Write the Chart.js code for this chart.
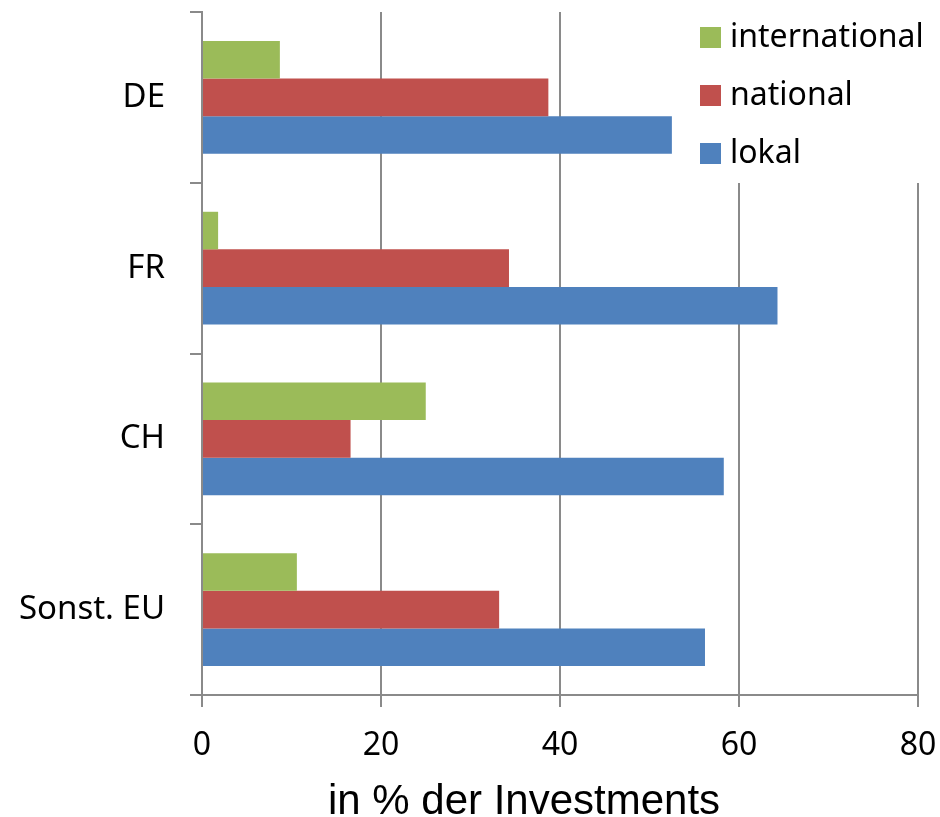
<!DOCTYPE html>
<html>
<head>
<meta charset="utf-8">
<script src="https://cdn.jsdelivr.net/npm/chart.js@4.4.1/dist/chart.umd.min.js"></script>
<style>
  html, body { margin: 0; padding: 0; background: #fff; }
  #wrap { width: 940px; height: 817px; }
</style>
</head>
<body>
<div id="wrap"><canvas id="investChart" width="940" height="817"></canvas></div>
<script>
// Chart data
const regions = ["DE", "FR", "CH", "Sonst. EU"];
const seriesNames = ["international", "national", "lokal"];
const international = [8.7, 1.8, 25.0, 10.6];
const national = [38.7, 34.3, 16.6, 33.2];
const lokal = [52.5, 64.3, 58.3, 56.2];
const xTicks = [0, 20, 40, 60, 80];
const xTitle = "in % der Investments";

const colors = ["#9BBB59", "#C0504D", "#4F81BD"];
const gridColor = "#8a8a8a";
const labelFont = "'Noto Sans', 'Open Sans', sans-serif";

// Legend drawn inside the plot area, on a white box that hides the grid
const insideLegend = {
  id: "insideLegend",
  beforeDatasetsDraw(chart) {
    const { ctx, chartArea } = chart;
    ctx.save();
    ctx.fillStyle = "#fff";
    ctx.fillRect(chartArea.right - 232, chartArea.top - 1, 250, 172);
    ctx.restore();
  },
  afterDraw(chart) {
    const { ctx, chartArea } = chart;
    ctx.save();
    ctx.font = "32px " + labelFont;
    ctx.textBaseline = "middle";
    chart.data.datasets.forEach((ds, i) => {
      const y = chartArea.top + 25 + i * 58;
      ctx.fillStyle = ds.backgroundColor;
      ctx.fillRect(chartArea.right - 218, y - 10, 21, 21);
      ctx.fillStyle = "#000";
      ctx.fillText(ds.label, chartArea.right - 188, y + 1);
    });

    // axis title, a bit left of the plot centre like the original
    ctx.font = "42px 'Liberation Sans', Arial, sans-serif";
    ctx.textAlign = "center";
    ctx.textBaseline = "alphabetic";
    ctx.fillText(xTitle, chartArea.left + 322, chart.height - 3);
    ctx.restore();
  }
};

new Chart(document.getElementById("investChart"), {
  type: "bar",
  data: {
    labels: regions,
    datasets: [
      { label: seriesNames[0], data: international, backgroundColor: colors[0] },
      { label: seriesNames[1], data: national, backgroundColor: colors[1] },
      { label: seriesNames[2], data: lokal, backgroundColor: colors[2] }
    ]
  },
  options: {
    indexAxis: "y",
    responsive: false,
    animation: false,
    layout: { padding: { top: 12, right: 22, left: 0, bottom: 0 } },
    datasets: {
      bar: { categoryPercentage: 0.66, barPercentage: 1.0, borderWidth: 0 }
    },
    plugins: {
      legend: { display: false },
      tooltip: { enabled: false }
    },
    scales: {
      x: {
        min: 0,
        max: 80,
        afterBuildTicks: (axis) => { axis.ticks = xTicks.map(v => ({ value: v })); },
        grid: { color: gridColor, lineWidth: 2, tickLength: 12 },
        border: { color: gridColor, width: 2 },
        ticks: {
          color: "#000",
          padding: 20,
          font: { family: labelFont, size: 32 }
        },
        afterFit: (axis) => {
          axis.height = 122;
          axis.paddingLeft = 0;
          axis.paddingRight = 0;
        }
      },
      y: {
        grid: { color: gridColor, lineWidth: 2, tickLength: 12, drawOnChartArea: false, offset: true },
        border: { color: gridColor, width: 2 },
        ticks: {
          color: "#000",
          padding: 25,
          font: { family: labelFont, size: 33 }
        },
        afterFit: (axis) => {
          axis.width = 202;
          axis.paddingTop = 0;
          axis.paddingBottom = 0;
        }
      }
    }
  },
  plugins: [insideLegend]
});
</script>
</body>
</html>
